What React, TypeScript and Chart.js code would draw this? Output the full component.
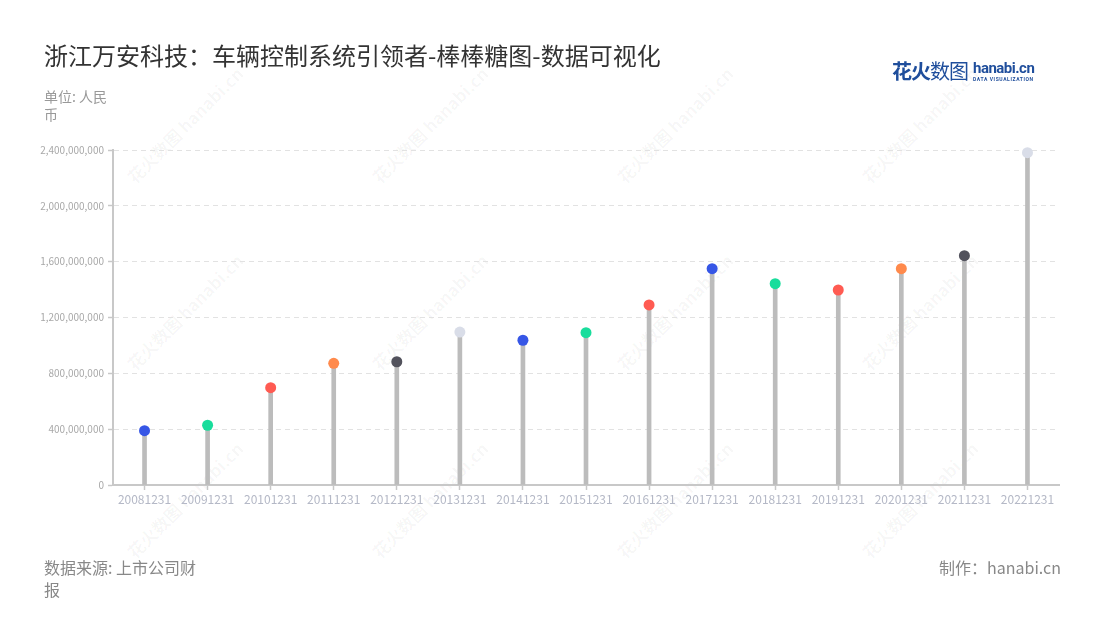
import React, { useEffect, useRef } from "react";
import { Chart, registerables } from "chart.js";

Chart.register(...registerables);

const categories = [
  "20081231", "20091231", "20101231", "20111231", "20121231",
  "20131231", "20141231", "20151231", "20161231", "20171231",
  "20181231", "20191231", "20201231", "20211231", "20221231",
];

const values = [
  389000000, 428000000, 697000000, 872000000, 883000000,
  1096000000, 1037000000, 1091000000, 1290000000, 1550000000,
  1442000000, 1397000000, 1550000000, 1643000000, 2381000000,
];

const dotColors = [
  "#3656e6", "#19dd9c", "#ff5b52", "#ff8a4c", "#52525c",
  "#d9dde8", "#3656e6", "#19dd9c", "#ff5b52", "#3656e6",
  "#19dd9c", "#ff5b52", "#ff8a4c", "#52525c", "#d9dde8",
];

const yTicks = [0, 400000000, 800000000, 1200000000, 1600000000, 2000000000, 2400000000];

const title = "浙江万安科技：车辆控制系统引领者-棒棒糖图-数据可视化";
const unitLabel = "单位: 人民币";
const sourceLabel = "数据来源: 上市公司财报";
const creditLabel = "制作：hanabi.cn";

const FONT = '"Noto Sans CJK SC", "Noto Sans", sans-serif';

const watermarkX = [185, 430, 675, 920];
const watermarkY = [125, 312, 500];

function Watermarks() {
  const items: React.ReactNode[] = [];
  watermarkY.forEach((y, r) =>
    watermarkX.forEach((x, c) => {
      items.push(
        <div
          key={`${r}-${c}`}
          style={{
            position: "absolute",
            left: x - 80,
            top: y - 12,
            width: 160,
            height: 24,
            lineHeight: "24px",
            textAlign: "center",
            transform: "rotate(-45deg)",
            fontFamily: FONT,
            fontWeight: 700,
            fontSize: 17,
            color: "rgba(0,0,0,0.04)",
            whiteSpace: "nowrap",
            pointerEvents: "none",
          }}
        >
          花火数图 hanabi.cn
        </div>
      );
    })
  );
  return <>{items}</>;
}

export default function App() {
  const canvasRef = useRef<HTMLCanvasElement | null>(null);

  useEffect(() => {
    if (!canvasRef.current) return;
    const chart = new Chart(canvasRef.current, {
      type: "bar",
      data: {
        labels: categories,
        datasets: [
          {
            type: "line",
            data: values,
            showLine: false,
            clip: false,
            pointRadius: 5.5,
            pointHoverRadius: 5.5,
            pointBorderWidth: 0,
            pointBackgroundColor: dotColors,
            pointBorderColor: dotColors,
            order: 0,
          } as any,
          {
            type: "bar",
            data: values,
            backgroundColor: "#bcbcbc",
            barThickness: 4,
            order: 1,
          },
        ],
      },
      options: {
        responsive: false,
        animation: false,
        layout: { padding: { left: 0, right: 41, top: 150, bottom: 100 } },
        plugins: {
          legend: { display: false },
          tooltip: { enabled: false },
        },
        scales: {
          x: {
            offset: true,
            grid: {
              display: true,
              drawOnChartArea: false,
              drawTicks: true,
              tickLength: 5,
              tickColor: "#c8c8c8",
              tickWidth: 1.5,
              offset: false,
            },
            border: { color: "#c8c8c8", width: 2 },
            ticks: {
              color: "#b4b8c6",
              font: { family: FONT, size: 12 },
              padding: 2,
              maxRotation: 0,
              autoSkip: false,
            },
            afterFit: (s: any) => {
              s.height = 35;
            },
          },
          y: {
            min: 0,
            max: 2400000000,
            afterBuildTicks: (s: any) => {
              s.ticks = yTicks.map((v) => ({ value: v }));
            },
            grid: {
              color: "#e2e2e2",
              lineWidth: 1,
              drawTicks: true,
              tickLength: 5,
              tickColor: "#c8c8c8",
              tickWidth: 1.5,
            },
            border: { color: "#c8c8c8", width: 2, dash: [5, 4] },
            ticks: {
              color: "#a8a8a8",
              font: { family: FONT, size: 10 },
              padding: 4,
              callback: (v: any) => Number(v).toLocaleString("en-US"),
            },
            afterFit: (s: any) => {
              s.width = 113;
            },
          },
        },
      },
    });
    return () => chart.destroy();
  }, []);

  return (
    <div
      style={{
        position: "absolute",
        left: 0,
        top: 0,
        width: 1100,
        height: 620,
        background: "#fff",
        overflow: "hidden",
        fontFamily: FONT,
      }}
    >
      <Watermarks />
      <canvas
        ref={canvasRef}
        width={1100}
        height={620}
        style={{ position: "absolute", left: 0, top: 0, width: 1100, height: 620 }}
      />
      <div
        style={{
          position: "absolute",
          left: 44,
          top: 39,
          fontSize: 24,
          lineHeight: "32px",
          color: "#333",
          whiteSpace: "nowrap",
        }}
      >
        {title}
      </div>
      <div
        style={{
          position: "absolute",
          left: 44,
          top: 87,
          width: 72,
          fontSize: 14,
          lineHeight: "18px",
          color: "#999",
        }}
      >
        {unitLabel}
      </div>
      <div
        style={{
          position: "absolute",
          left: 44,
          top: 556,
          width: 162,
          fontSize: 16,
          lineHeight: "22px",
          color: "#888",
        }}
      >
        {sourceLabel}
      </div>
      <div
        style={{
          position: "absolute",
          right: 39,
          top: 556,
          fontSize: 16,
          lineHeight: "22px",
          color: "#888",
          whiteSpace: "nowrap",
        }}
      >
        {creditLabel}
      </div>
      <div
        style={{
          position: "absolute",
          left: 892,
          top: 58,
          display: "flex",
          alignItems: "center",
          whiteSpace: "nowrap",
        }}
      >
        <span style={{ fontSize: 20, fontWeight: 700, color: "#1f4e9c", lineHeight: "26px", letterSpacing: -1 }}>
          花火
        </span>
        <span style={{ fontSize: 20, fontWeight: 400, color: "#1f4e9c", lineHeight: "26px", letterSpacing: -1 }}>
          数图
        </span>
        <span style={{ display: "inline-block", marginLeft: 5, lineHeight: 1 }}>
          <span
            style={{
              display: "block",
              fontFamily: "Roboto, sans-serif",
              fontSize: 15,
              fontWeight: 700,
              color: "#1f4e9c",
              letterSpacing: -0.5,
              lineHeight: "15px",
            }}
          >
            hanabi.cn
          </span>
          <span
            style={{
              display: "block",
              fontFamily: "Roboto, sans-serif",
              fontSize: 5,
              fontWeight: 700,
              color: "#1f4e9c",
              letterSpacing: 0.6,
              lineHeight: "6px",
            }}
          >
            DATA VISUALIZATION
          </span>
        </span>
      </div>
    </div>
  );
}
